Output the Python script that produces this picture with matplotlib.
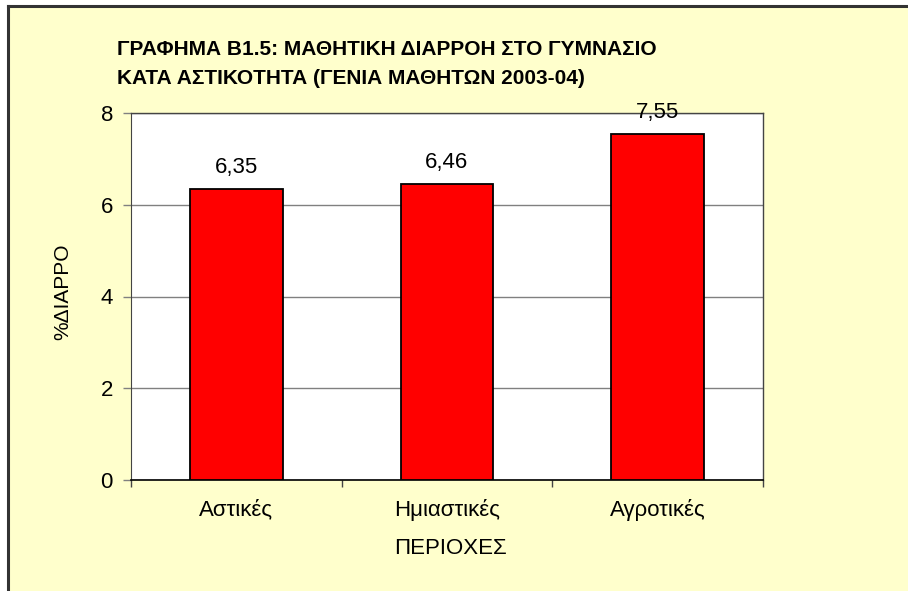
import matplotlib
matplotlib.use("Agg")
import matplotlib.pyplot as plt
from matplotlib.patches import Rectangle
from matplotlib.lines import Line2D

categories = ["Αστικές", "Ημιαστικές", "Αγροτικές"]
values = [6.35, 6.46, 7.55]
value_labels = ["6,35", "6,46", "7,55"]
title_lines = ["ΓΡΑΦΗΜΑ Β1.5: ΜΑΘΗΤΙΚΗ ΔΙΑΡΡΟΗ ΣΤΟ ΓΥΜΝΑΣΙΟ",
               "ΚΑΤΑ ΑΣΤΙΚΟΤΗΤΑ (ΓΕΝΙΑ ΜΑΘΗΤΩΝ 2003-04)"]
y_ticks = [0, 2, 4, 6, 8]
x_title = "ΠΕΡΙΟΧΕΣ"
y_title = "%ΔΙΑΡΡΟ"

plt.rcParams['font.family'] = ['Liberation Sans', 'DejaVu Sans']

W, H = 908, 591
fig = plt.figure(figsize=(W / 100, H / 100), dpi=100)
fig.patch.set_facecolor('white')

def fx(px):
    return px / W

def fy(py):
    return 1 - py / H

# chart area background with border on left/top
fig.patches.append(Rectangle((fx(8), 0), 1 - fx(8), fy(6), transform=fig.transFigure,
                             facecolor='#FFFFCC', edgecolor='none', zorder=-5))
fig.lines.append(Line2D([fx(8), fx(8)], [0, fy(6)], transform=fig.transFigure,
                        color='#333333', lw=2.2, zorder=-4))
fig.lines.append(Line2D([fx(8), 1], [fy(6), fy(6)], transform=fig.transFigure,
                        color='#333333', lw=2.2, zorder=-4))

ax = fig.add_axes([fx(131), fy(480), fx(763) - fx(131), fy(113) - fy(480)])
ax.set_zorder(2)
ax.set_facecolor('white')

x = list(range(len(categories)))
ax.bar(x, values, width=0.44, color='#FF0000', edgecolor='black', linewidth=1.3, zorder=3)

ax.set_xlim(-0.5, len(categories) - 0.5)
ax.set_ylim(0, 8)
ax.set_yticks(y_ticks)
ax.set_yticklabels([str(t) for t in y_ticks])
ax.yaxis.grid(True, color='#808080', linewidth=1.0, zorder=0)
ax.set_axisbelow(True)

FS = 16

# x ticks at category boundaries, labels at centers
ax.set_xticks([i - 0.5 for i in range(len(categories) + 1)])
ax.set_xticklabels([])
ax.set_xticks(x, minor=True)
ax.set_xticklabels(categories, minor=True)
ax.tick_params(axis='x', which='major', direction='out', length=5, width=1, color='#444444')
ax.tick_params(axis='x', which='minor', length=0, pad=14, labelsize=FS)
ax.tick_params(axis='y', direction='out', length=6, width=1, color='#808080', pad=7, labelsize=FS)

for s in ['top', 'right']:
    ax.spines[s].set_color('#444444')
    ax.spines[s].set_linewidth(1)
ax.spines['left'].set_color('#444444')
ax.spines['bottom'].set_color('black')
ax.spines['bottom'].set_linewidth(1.2)

for xi, v, lab in zip(x, values, value_labels):
    ax.annotate(lab, (xi, v), xytext=(0, 11.5), textcoords='offset points',
                ha='center', va='baseline', fontsize=FS, zorder=5, annotation_clip=False)

fig.text(fx(450), fy(548), x_title, ha='center', va='center', fontsize=FS)
fig.text(fx(63), fy(292), y_title, ha='center', va='center', rotation=90, fontsize=15)

fig.text(fx(117), fy(55), title_lines[0], ha='left', va='baseline', fontsize=15, fontweight='bold')
fig.text(fx(117), fy(84), title_lines[1], ha='left', va='baseline', fontsize=15, fontweight='bold')

fig.savefig('out.png', dpi=100, facecolor=fig.get_facecolor())
